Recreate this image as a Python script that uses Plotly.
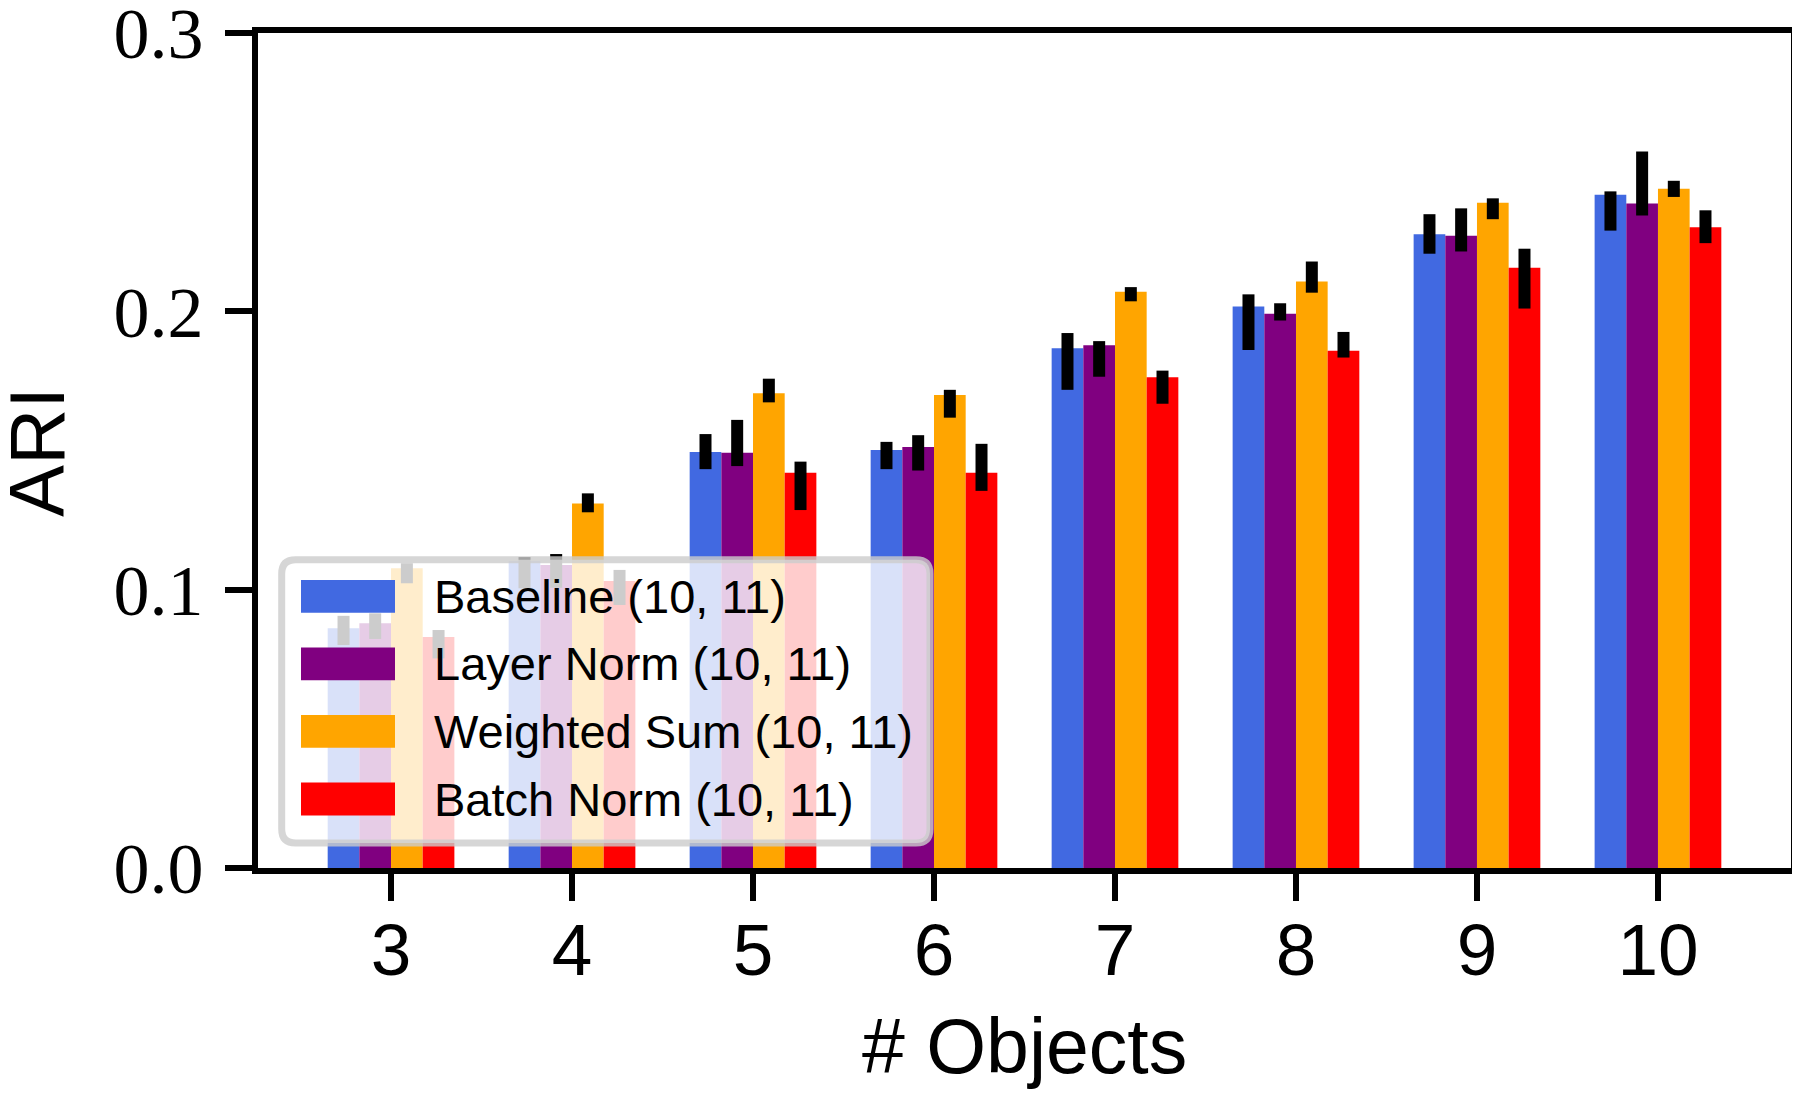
import plotly.graph_objects as go
import numpy as np

objects = [3, 4, 5, 6, 7, 8, 9, 10]
tick_text = ["3", "4", "5", "6", "7", "8", "9", "10"]
y_tick_vals = [0.0, 0.1, 0.2, 0.3]
y_tick_text = ["0.0", "0.1", "0.2", "0.3"]

series_names = ["Baseline (10, 11)", "Layer Norm (10, 11)", "Weighted Sum (10, 11)", "Batch Norm (10, 11)"]
series_colors = ["#4169E1", "#800080", "#FFA500", "#FF0000"]

baseline_mean = [0.0861, 0.1103, 0.1495, 0.1502, 0.1867, 0.2017, 0.2277, 0.2419]
baseline_hi   = [0.0906, 0.1117, 0.1559, 0.1531, 0.1922, 0.2061, 0.2349, 0.2431]
baseline_lo   = [0.0801, 0.1005, 0.1433, 0.1433, 0.1718, 0.1861, 0.2207, 0.2290]

layernorm_mean = [0.0879, 0.1089, 0.1492, 0.1513, 0.1878, 0.1991, 0.2272, 0.2387]
layernorm_hi   = [0.0915, 0.1128, 0.1610, 0.1555, 0.1893, 0.2029, 0.2370, 0.2574]
layernorm_lo   = [0.0823, 0.1007, 0.1444, 0.1428, 0.1765, 0.1967, 0.2215, 0.2344]

weighted_mean = [0.1077, 0.1310, 0.1706, 0.1699, 0.2070, 0.2107, 0.2390, 0.2440]
weighted_hi   = [0.1095, 0.1346, 0.1758, 0.1718, 0.2087, 0.2179, 0.2406, 0.2469]
weighted_lo   = [0.1023, 0.1278, 0.1673, 0.1618, 0.2036, 0.2067, 0.2331, 0.2411]

batchnorm_mean = [0.0830, 0.1031, 0.1420, 0.1420, 0.1763, 0.1858, 0.2157, 0.2302]
batchnorm_hi   = [0.0855, 0.1071, 0.1460, 0.1524, 0.1787, 0.1926, 0.2225, 0.2363]
batchnorm_lo   = [0.0753, 0.0945, 0.1286, 0.1355, 0.1668, 0.1834, 0.2010, 0.2245]

means = [baseline_mean, layernorm_mean, weighted_mean, batchnorm_mean]
his = [baseline_hi, layernorm_hi, weighted_hi, batchnorm_hi]
los = [baseline_lo, layernorm_lo, weighted_lo, batchnorm_lo]

# page has an 8px body margin: figure origin sits at (8, 8) on the page
OFF = 8
W, H = 1800 - OFF, 1101 - OFF
PL, PR, PT, PB = 258, 1791, 33, 868  # target plot area in page pixels
L, R, T, B = PL - OFF, PR - OFF, PT - OFF, PB - OFF

fig = go.Figure()
for name, color, m, hi, lo in zip(series_names, series_colors, means, his, los):
    m = np.array(m); hi = np.array(hi); lo = np.array(lo)
    fig.add_bar(
        x=objects, y=m, name=name,
        marker=dict(color=color, line=dict(width=0)),
        error_y=dict(type="data", symmetric=False, array=hi - m, arrayminus=m - lo,
                     color="black", thickness=12, width=0),
        showlegend=False,
    )

def px(x):  # page x -> paper
    return (x - PL) / (PR - PL)

def py(y):  # page y -> paper
    return (PB - y) / (PB - PT)

# custom legend (drawn above bars, semi-transparent)
x0, x1, y0, y1, r = 281.7, 930.0, 559.7, 843.0, 14.0
pts = [
    ("M", [(x0 + r, y0)]),
    ("L", [(x1 - r, y0)]),
    ("Q", [(x1, y0), (x1, y0 + r)]),
    ("L", [(x1, y1 - r)]),
    ("Q", [(x1, y1), (x1 - r, y1)]),
    ("L", [(x0 + r, y1)]),
    ("Q", [(x0, y1), (x0, y1 - r)]),
    ("L", [(x0, y0 + r)]),
    ("Q", [(x0, y0), (x0 + r, y0)]),
]
path = ""
for cmd, ps in pts:
    path += cmd + " " + " ".join(f"{px(a):.5f},{py(b):.5f}" for a, b in ps) + " "
path += "Z"

shapes = [dict(type="path", path=path, xref="paper", yref="paper", layer="above",
               fillcolor="rgba(255,255,255,0.8)", line=dict(color="rgba(204,204,204,0.8)", width=7))]
annotations = []
row_y = [596.3, 663.8, 731.3, 799.0]
for name, color, ry in zip(series_names, series_colors, row_y):
    shapes.append(dict(type="rect", xref="paper", yref="paper", layer="above",
                       x0=px(301), x1=px(395), y0=py(ry - 16.4), y1=py(ry + 16.4),
                       fillcolor=color, line=dict(width=0)))
    annotations.append(dict(text=name, x=px(432), y=py(ry), xref="paper", yref="paper",
                            xanchor="left", yanchor="middle", showarrow=False,
                            font=dict(family="Liberation Sans", size=47, color="black")))

annotations.append(dict(text="ARI", x=px(37), y=py(452), xref="paper", yref="paper",
                        xanchor="center", yanchor="middle", showarrow=False, textangle=-90,
                        font=dict(family="Liberation Sans", size=78, color="black")))
annotations.append(dict(text="# Objects", x=px(1024), y=py(1046), xref="paper", yref="paper",
                        xanchor="center", yanchor="middle", showarrow=False,
                        font=dict(family="Liberation Sans", size=77, color="black")))

fig.update_layout(
    width=W, height=H,
    margin=dict(l=L, r=W - R, t=T, b=H - B, pad=0, autoexpand=False),
    paper_bgcolor="white", plot_bgcolor="white",
    barmode="group", bargap=0.3, bargroupgap=0,
    shapes=shapes, annotations=annotations,
    xaxis=dict(range=[2.265, 10.735], tickmode="array", tickvals=objects, ticktext=tick_text,
               ticks="outside", ticklen=27, tickwidth=6, tickcolor="black",
               showline=True, linewidth=6, linecolor="black", mirror=True,
               showgrid=False, zeroline=False, ticklabelstandoff=-14,
               ticklabeloverflow="allow",
               tickfont=dict(family="Liberation Sans", size=73, color="black")),
    yaxis=dict(range=[0, 0.3], tickmode="array", tickvals=y_tick_vals, ticktext=y_tick_text,
               ticks="outside", ticklen=27, tickwidth=6, tickcolor="black",
               showline=True, linewidth=6, linecolor="black", mirror=True,
               showgrid=False, zeroline=False, ticklabelstandoff=7,
               ticklabeloverflow="allow",
               tickfont=dict(family="Liberation Serif", size=72, color="black")),
)

fig.write_html("out.html")
